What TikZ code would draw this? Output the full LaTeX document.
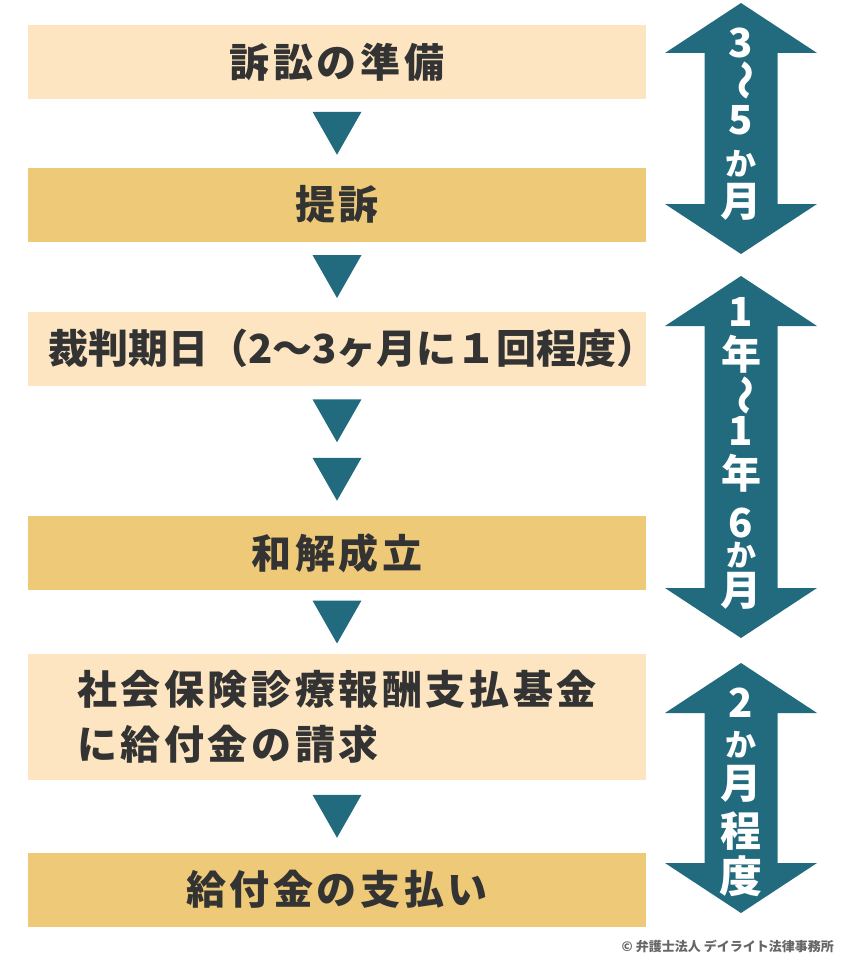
\documentclass[tikz,border=0pt]{standalone}
\usepackage{fontspec}
\usepackage{xcolor}
\usetikzlibrary{calc}
\setmainfont{Noto Sans CJK JP}
\newfontfamily\boxfont{Noto Sans CJK JP}[LetterSpace=9]

\definecolor{paleorange}{HTML}{FCE5C0}
\definecolor{sandgold}{HTML}{EDC978}
\definecolor{petrol}{HTML}{226B7E}
\definecolor{inkgray}{HTML}{333333}

% long double arrow, top tip y=#1, bottom tip y=#2
\newcommand\spanarrow[2]{%
  \fill[petrol] (741,#1) -- (817,#1+50) -- (777.5,#1+50) -- (777.5,#2-50) -- (817,#2-50)
    -- (741,#2) -- (665,#2-50) -- (704.5,#2-50) -- (704.5,#1+50) -- (665,#1+50) -- cycle;}
\newcommand\vwave{\rotatebox{-90}{〜}}

\begin{document}
\begin{tikzpicture}[x=1pt,y=-1pt,
    stepbox/.style={minimum width=618pt, minimum height=74pt, inner sep=0pt,
      text=inkgray, font=\boxfont\fontsize{40}{55}\selectfont\bfseries},
    pale/.style={stepbox, fill=paleorange},
    gold/.style={stepbox, fill=sandgold},
    vlabel/.style={text=white, inner sep=0pt}]

  \useasboundingbox (0,0) rectangle (850,966);

  \node[pale] (prep) at (337,62) {訴訟の準備};
  \node[gold] (suit) at (337,204.5) {提訴};
  \node[pale, text width=618pt, align=center, font=\fontsize{40}{40}\selectfont\bfseries]
    (hear) at (337,348.5) {\hspace*{20pt}裁判期日（2〜3ヶ月に１回程度）};
  \node[gold] (settle) at (337,553) {和解成立};
  \node[pale, minimum height=126pt, align=left] (claim) at (337,717)
    {社会保険診療報酬支払基金\\に給付金の請求};
  \node[gold] (pay) at (337,889.5) {給付金の支払い};

  % down marks between the steps
  \foreach \a/\b/\s in {prep/suit/0, suit/hear/0, hear/settle/-30, hear/settle/28.5,
                        settle/claim/0, claim/pay/0}
    \fill[petrol] ($(\a.south)!.5!(\b.north)+(-24.5,\s-21.5)$) -- ++(49,0) -- ++(-24.5,43) -- cycle;

  \spanarrow{3}{254}
  \spanarrow{276}{638}
  \spanarrow{663}{913}

  % vertical labels: char / y / size
  \foreach \c/\y/\f in {3/43/40, \vwave/81/40, 5/120/40, か/164/31, 月/202/41}
    \node[vlabel, font=\fontsize{\f}{\f}\selectfont\bfseries] at (741,\y) {\c};
  \foreach \c/\y/\f in {1/312/40, 年/354/40, \vwave/395/40, 1/431/40, 年/473/40,
                        6/523/40, か/555/30, 月/591/41}
    \node[vlabel, font=\fontsize{\f}{\f}\selectfont\bfseries] at (741,\y) {\c};
  \foreach \c/\y/\f in {2/703/40, か/745/31, 月/784/41, 程/831/41, 度/876/43}
    \node[vlabel, font=\fontsize{\f}{\f}\selectfont\bfseries] at (741,\y) {\c};

  \node[anchor=east, text=black!60, inner sep=0pt, font=\fontsize{13}{13}\selectfont\bfseries]
    (credit) at (834,946) {© 弁護士法人 デイライト法律事務所};

\end{tikzpicture}
\end{document}
